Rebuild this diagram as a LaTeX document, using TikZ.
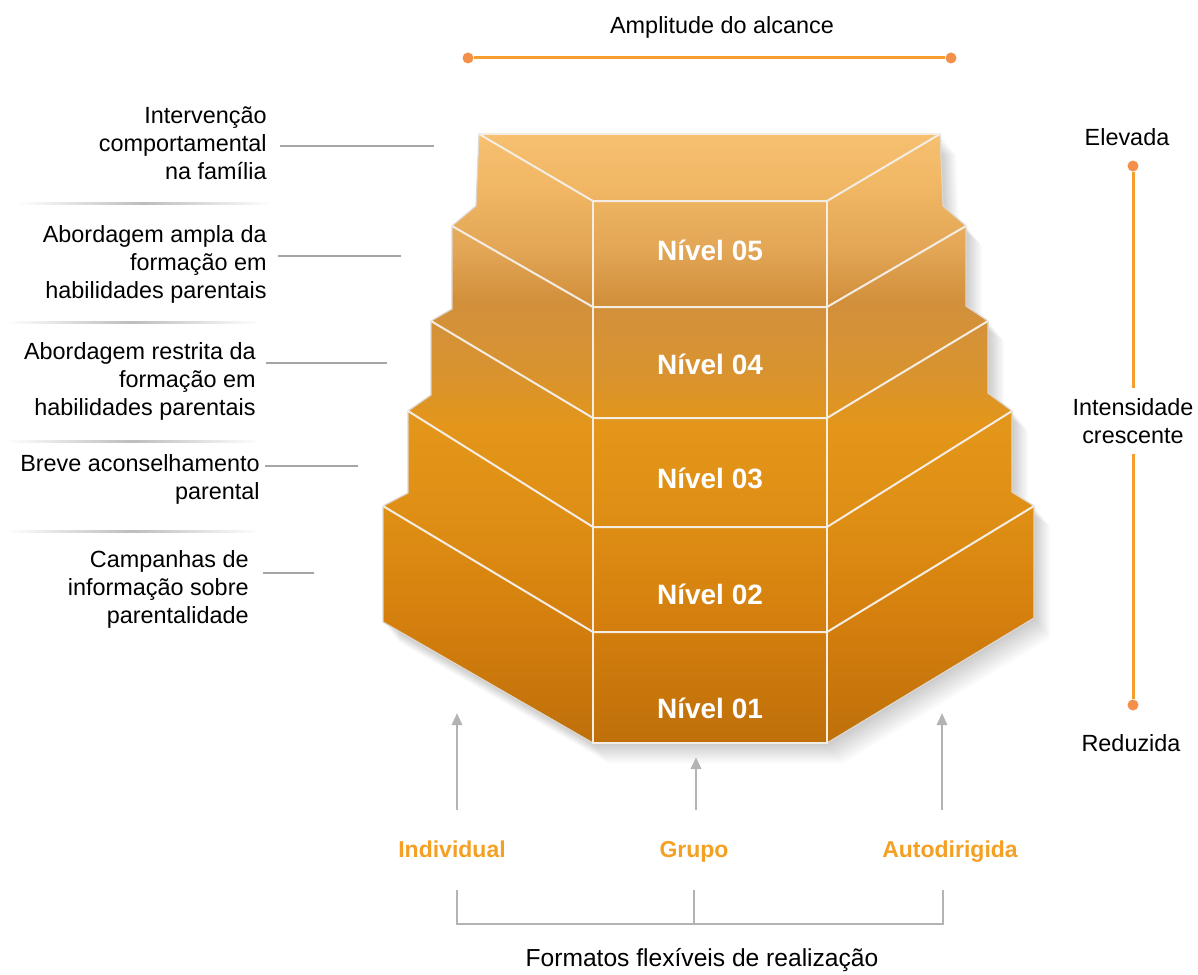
\documentclass[tikz,border=0pt]{standalone}
\usepackage{fontspec}
\setmainfont{Liberation Sans}
\usetikzlibrary{arrows.meta}

\definecolor{pa}{HTML}{F6C070}
\definecolor{pb}{HTML}{F0B663}
\definecolor{pc}{HTML}{E2A656}
\definecolor{pd}{HTML}{D2903C}
\definecolor{pe}{HTML}{D89330}
\definecolor{pf}{HTML}{E3961A}
\definecolor{pg}{HTML}{DE8E14}
\definecolor{ph}{HTML}{D47F0E}
\definecolor{pi}{HTML}{BF700A}
\definecolor{seamcol}{HTML}{F4EDE4}
\definecolor{leadgray}{HTML}{A6A6A6}
\definecolor{sepgray}{HTML}{BDBDBD}
\definecolor{arrgray}{HTML}{B3B3B3}
\definecolor{fmtorange}{HTML}{F4A024}
\definecolor{lineorange}{HTML}{F59E2E}
\definecolor{dotorange}{HTML}{F4904A}

\pgfdeclareverticalshading{pyr}{100bp}{color(0bp)=(pi); color(25bp)=(pi);
  color(35.1bp)=(ph); color(43.3bp)=(pg); color(51.1bp)=(pf); color(55.6bp)=(pe);
  color(61.4bp)=(pd); color(65.5bp)=(pc); color(70.4bp)=(pb); color(75bp)=(pa);
  color(100bp)=(pa)}

\newcommand\pyroutline{(593,743) -- (383,622) -- (383,506) -- (408,493) -- (408,411)
  -- (431,395) -- (431,321) -- (452,309) -- (452,226) -- (476,206) -- (479,134)
  -- (940,134) -- (943,206) -- (966,226) -- (966,306) -- (988,321) -- (988,393)
  -- (1012,411) -- (1012,492) -- (1034,506) -- (1034,618) -- (827,743) -- cycle}

\begin{document}
\begin{tikzpicture}
  [x=0.5pt,y=-0.5pt,
   lbl/.style={anchor=east,align=right,inner sep=0pt,font=\fontsize{11.7}{14}\selectfont},
   txt/.style={inner sep=0pt,font=\fontsize{11.7}{14}\selectfont},
   nivel/.style={text=white,font=\fontsize{14}{16}\selectfont\bfseries},
   fmt/.style={anchor=base,inner sep=0pt,text=fmtorange,font=\fontsize{11.5}{14}\selectfont\bfseries},
   enddot/.style={circle,fill=dotorange,minimum size=5.5pt,inner sep=0pt},
   seam/.style={draw=seamcol,line width=1pt},
   leader/.style={draw=leadgray,line width=1.25pt},
   orline/.style={draw=lineorange,line width=1.5pt},
   arr/.style={draw=arrgray,line width=1.4pt,-{Triangle[width=5pt,length=6pt]}},
   brk/.style={draw=arrgray,line width=1.4pt}]
  \useasboundingbox (0,0) rectangle (1198,974);
  \fill[white] (0,0) rectangle (1198,974);

  % pyramid
  \foreach \d in {2,4,...,20}
    \fill[black,opacity=0.02,shift={(\d*0.8,\d)}] \pyroutline;
  \shade[shading=pyr,draw=seamcol!80!gray,line width=0.6pt] \pyroutline;
  \foreach \k/\y in {0/743,1/632,2/527,3/418,4/307,5/201} {
    \coordinate (cl\k) at (593,\y);
    \coordinate (cr\k) at (827,\y);
  }
  \foreach \k/\l/\r/\y in {1/383/1034/506,2/408/1012/411,3/431/988/321,4/452/966/226,5/479/940/134} {
    \coordinate (lt\k) at (\l,\y);
    \coordinate (rt\k) at (\r,\y);
  }
  \foreach \k in {1,...,5}
    \draw[seam] (lt\k) -- (cl\k) -- (cr\k) -- (rt\k);
  \draw[seam] (cl5) -- (cl0) -- (cr0) -- (cr5);
  \draw[seam] (lt5) -- (rt5);
  \foreach \k/\y in {1/708,2/594,3/478,4/364,5/250}
    \node[nivel] (n\k) at (710,\y) {Nível 0\k};

  % left labels
  \node[lbl] (a) at (267,143) {Intervenção\\comportamental\\na família};
  \node[lbl] (b) at (267,264) {Abordagem ampla da\\formação em\\habilidades parentais};
  \node[lbl] (c) at (256,381) {Abordagem restrita da\\formação em\\habilidades parentais};
  \node[lbl] (d) at (260,479) {Breve aconselhamento\\parental};
  \node[lbl] (e) at (249,589) {Campanhas de\\informação sobre\\parentalidade};
  \coordinate (ae) at (434,146);
  \coordinate (be) at (401,256);
  \coordinate (ce) at (387,363);
  \coordinate (de) at (358,466);
  \coordinate (ee) at (314,573);
  \foreach \n/\g in {a/13,b/11,c/10,d/5,e/14}
    \draw[leader] (\n.east |- \n e) ++(\g,0) -- (\n e);
  \foreach \y/\xa/\xb in {203/17/272,322/5/260,441/5/260,531/5/260}
    \shade[left color=white,right color=white,middle color=sepgray] (\xa,\y-1) rectangle (\xb,\y+1);

  % intensity scale
  \node[txt] (hi) at (1127,137) {Elevada};
  \node[enddot] (hd) at (1133,166) {};
  \node[txt,align=center,inner sep=5pt] (mid) at (1133,421) {Intensidade\\crescente};
  \node[enddot] (ld) at (1133,705) {};
  \node[txt] (lo) at (1131,743) {Reduzida};
  \draw[orline] (hd) -- (mid);
  \draw[orline] (mid) -- (ld);

  % reach
  \node[txt] (amp) at (722,27) {Amplitude do alcance};
  \node[enddot] (al) at (468,58) {};
  \node[enddot] (ar) at (951,58) {};
  \draw[orline] (al) -- (ar);

  % delivery formats
  \node[fmt] (ind) at (452,857) {Individual};
  \node[fmt] (grp) at (694,857) {Grupo};
  \node[fmt] (aut) at (950,857) {Autodirigida};
  \foreach \n/\x/\t in {ind/457/713,grp/696/757,aut/942/713} {
    \coordinate (\n0) at (\x,810);
    \coordinate (\n1) at (\x,\t);
    \draw[arr] (\n0) -- (\n1);
  }
  \coordinate (k1) at (457,890);
  \coordinate (k2) at (457,924);
  \coordinate (k3) at (943,924);
  \coordinate (k4) at (943,890);
  \coordinate (k5) at (694,890);
  \coordinate (k6) at (694,924);
  \draw[brk] (k1) -- (k2) -- (k3) -- (k4);
  \draw[brk] (k5) -- (k6);
  \node[txt,anchor=base,font=\fontsize{12.3}{14}\selectfont] (fm) at (702,966) {Formatos flexíveis de realização};
\end{tikzpicture}
\end{document}
